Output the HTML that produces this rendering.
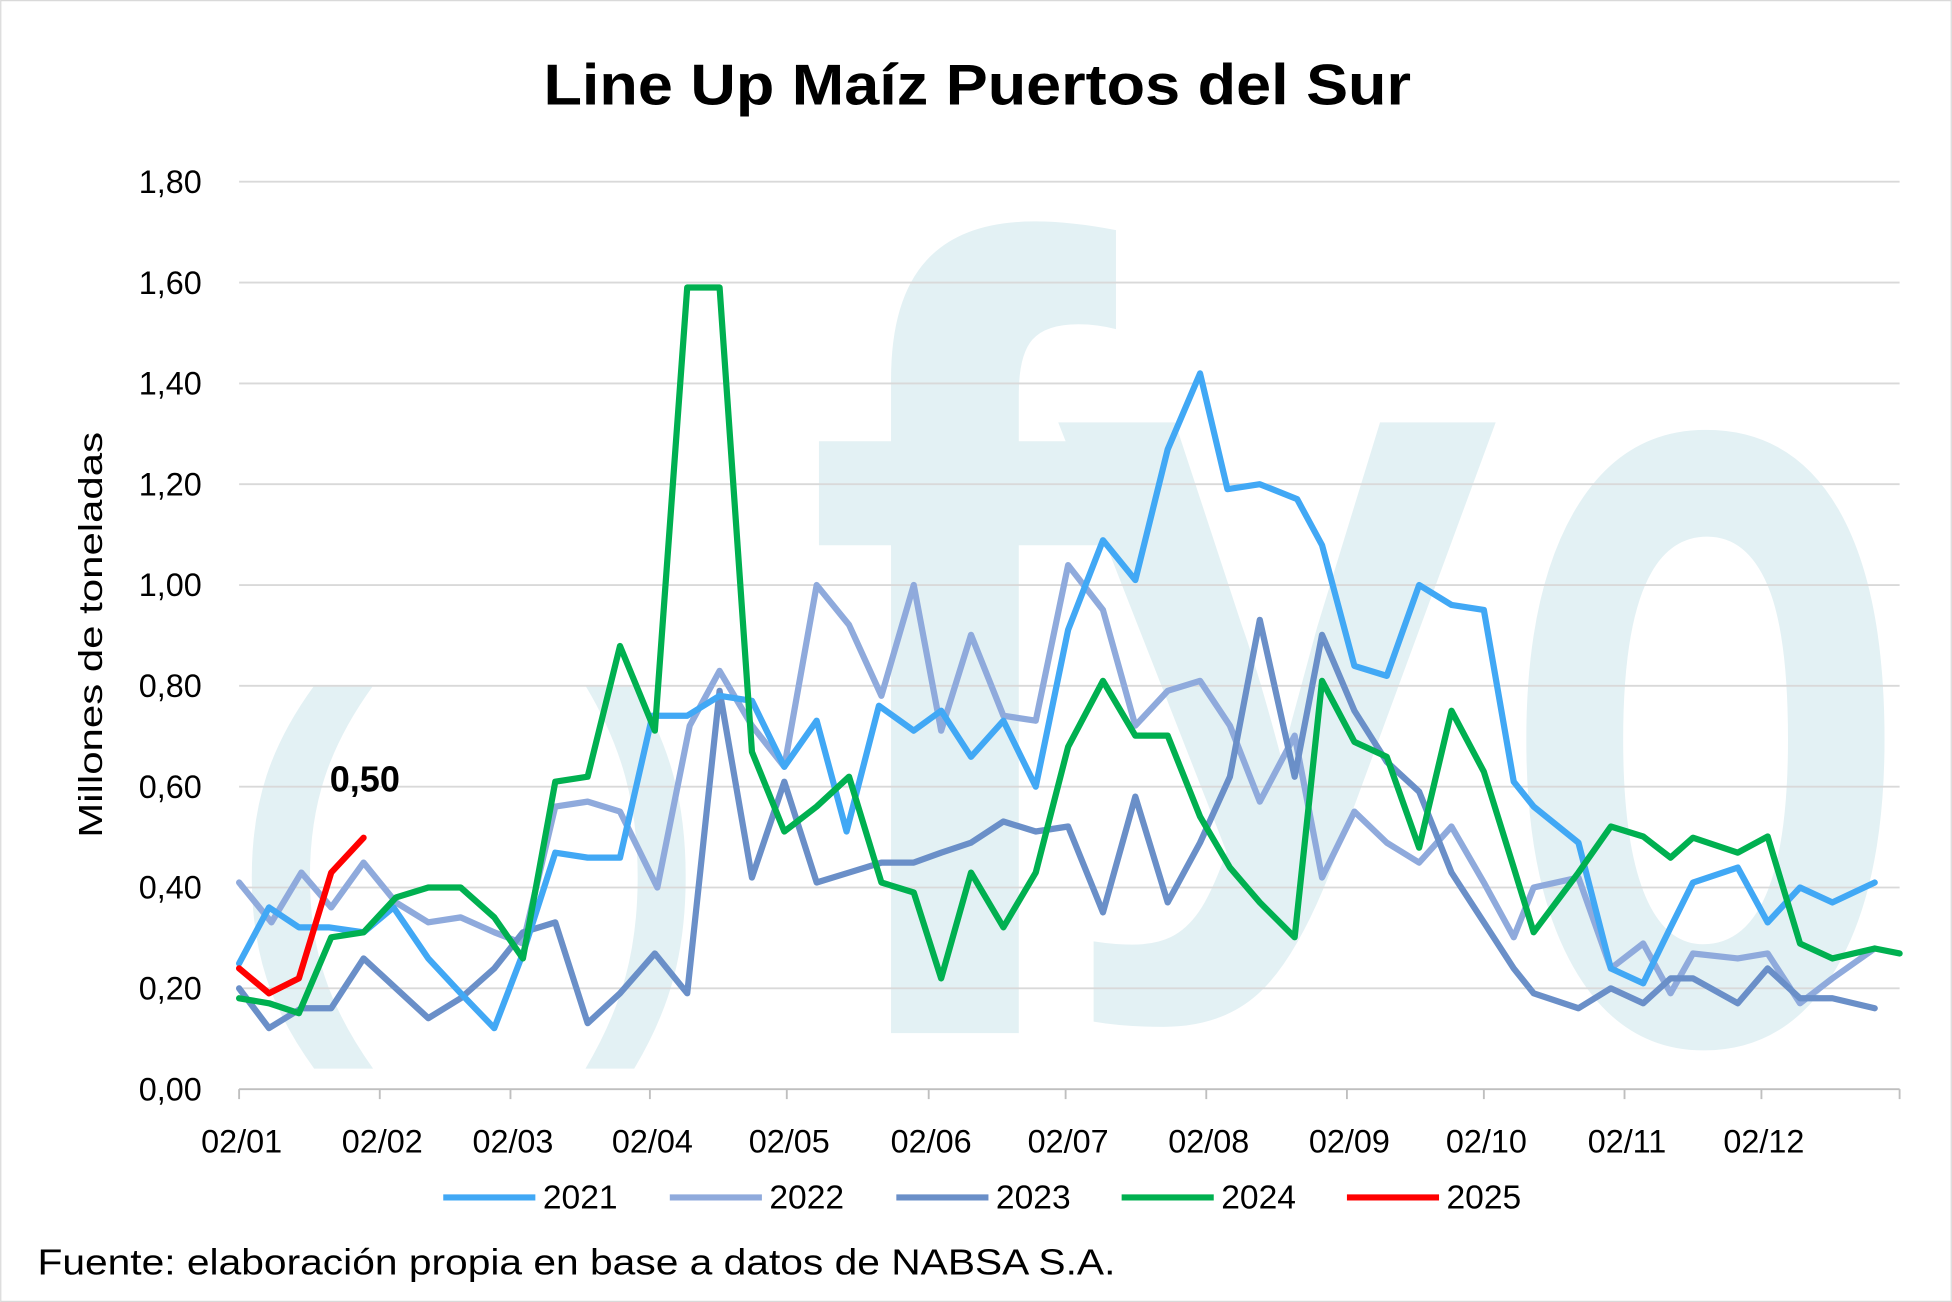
<!DOCTYPE html>
<html><head><meta charset="utf-8"><style>
html,body{margin:0;padding:0;background:#fff;}
svg{display:block;font-family:"Liberation Sans",sans-serif;}
</style></head><body>
<svg width="1952" height="1302" viewBox="0 0 1568 1046" xmlns="http://www.w3.org/2000/svg">
<rect x="0.5" y="0.5" width="1567" height="1045" fill="#fff" stroke="#d9d9d9"/>
<g fill="#e3f1f4" font-family="Liberation Sans,sans-serif">
<text x="645" y="830" font-size="900" font-weight="bold" textLength="250" lengthAdjust="spacingAndGlyphs">f</text>
<text x="845" y="688" font-size="660" font-weight="bold" textLength="360" lengthAdjust="spacingAndGlyphs">y</text>
<text x="1205" y="835" font-size="910" font-weight="bold" textLength="330" lengthAdjust="spacingAndGlyphs">o</text>
<text x="185" y="790" font-size="330" font-weight="bold" textLength="115" lengthAdjust="spacingAndGlyphs">(</text>
<text x="470" y="790" font-size="330" font-weight="bold" textLength="95" lengthAdjust="spacingAndGlyphs">)</text>
</g>
<text x="785" y="84" text-anchor="middle" font-size="46" font-weight="bold" fill="#000" textLength="697" lengthAdjust="spacingAndGlyphs">Line Up Maíz Puertos del Sur</text>
<g stroke="#d9d9d9" stroke-width="1.5">
<line x1="192" x2="1526" y1="146" y2="146"/><line x1="192" x2="1526" y1="227" y2="227"/><line x1="192" x2="1526" y1="308" y2="308"/><line x1="192" x2="1526" y1="389" y2="389"/><line x1="192" x2="1526" y1="470" y2="470"/><line x1="192" x2="1526" y1="551" y2="551"/><line x1="192" x2="1526" y1="632" y2="632"/><line x1="192" x2="1526" y1="713" y2="713"/><line x1="192" x2="1526" y1="794" y2="794"/>
</g>
<line x1="192" x2="1526" y1="875" y2="875" stroke="#bfbfbf" stroke-width="1.5"/>
<g stroke="#bfbfbf" stroke-width="1.5">
<line x1="192" x2="192" y1="875" y2="883"/><line x1="305" x2="305" y1="875" y2="883"/><line x1="410" x2="410" y1="875" y2="883"/><line x1="522" x2="522" y1="875" y2="883"/><line x1="632" x2="632" y1="875" y2="883"/><line x1="746" x2="746" y1="875" y2="883"/><line x1="856" x2="856" y1="875" y2="883"/><line x1="969" x2="969" y1="875" y2="883"/><line x1="1082" x2="1082" y1="875" y2="883"/><line x1="1192" x2="1192" y1="875" y2="883"/><line x1="1305" x2="1305" y1="875" y2="883"/><line x1="1415" x2="1415" y1="875" y2="883"/><line x1="1526" x2="1526" y1="875" y2="883"/>
</g>
<g font-size="26" fill="#000" text-anchor="end">
<text x="162" y="155">1,80</text><text x="162" y="236">1,60</text><text x="162" y="317">1,40</text><text x="162" y="398">1,20</text><text x="162" y="479">1,00</text><text x="162" y="560">0,80</text><text x="162" y="641">0,60</text><text x="162" y="722">0,40</text><text x="162" y="803">0,20</text><text x="162" y="884">0,00</text>
</g>
<g font-size="26" fill="#000" text-anchor="middle">
<text x="194" y="926">02/01</text><text x="307" y="926">02/02</text><text x="412" y="926">02/03</text><text x="524" y="926">02/04</text><text x="634" y="926">02/05</text><text x="748" y="926">02/06</text><text x="858" y="926">02/07</text><text x="971" y="926">02/08</text><text x="1084" y="926">02/09</text><text x="1194" y="926">02/10</text><text x="1307" y="926">02/11</text><text x="1417" y="926">02/12</text>
</g>
<text transform="translate(82,510) rotate(-90)" text-anchor="middle" font-size="27" fill="#000" textLength="326" lengthAdjust="spacingAndGlyphs">Millones de toneladas</text>
<g fill="none" stroke-width="5" stroke-linejoin="round" stroke-linecap="round">
<polyline stroke="#8faadc" points="192,709 218,741 242,701 266,729 292,693 318,725 344,741 370,737 397,749 420,758 446,648 472,644 498,652 528,713 554,583 578,539 604,583 630,616 656,470 682,502 708,559 734,470 756,587 780,510 806,575 832,579 858,454 886,490 912,583 938,555 964,547 988,583 1012,644 1040,591 1062,705 1088,652 1114,677 1140,693 1166,664 1192,709 1216,753 1232,713 1268,705 1294,778 1320,758 1342,798 1360,766 1396,770 1420,766 1446,806 1472,786 1506,762"/>
<polyline stroke="#6a8fc8" points="192,794 216,826 242,810 266,810 292,770 318,794 344,818 370,802 397,778 420,749 446,741 472,822 498,798 526,766 552,798 578,555 604,705 630,628 656,709 682,701 708,693 734,693 756,685 780,677 806,660 832,668 858,664 886,733 912,640 938,725 964,677 988,624 1012,498 1040,624 1062,510 1088,571 1114,612 1140,636 1166,701 1192,741 1216,778 1232,798 1268,810 1294,794 1320,806 1342,786 1360,786 1396,806 1420,778 1446,802 1472,802 1506,810"/>
<polyline stroke="#41a8f5" points="192,774 216,729 240,745 264,745 292,749 316,729 344,770 370,798 397,826 420,766 446,685 472,689 498,689 524,575 552,575 578,559 604,563 630,616 656,579 680,668 706,567 734,587 756,571 780,608 806,579 832,632 858,506 886,434 912,466 938,361 964,300 986,393 1012,389 1042,401 1062,438 1088,535 1114,543 1140,470 1166,486 1192,490 1216,628 1232,648 1268,677 1294,778 1320,790 1342,745 1360,709 1396,697 1420,741 1446,713 1472,725 1506,709"/>
<polyline stroke="#00b050" points="192,802 216,806 240,814 266,753 292,749 318,721 344,713 370,713 397,737 420,770 446,628 472,624 498,519 526,587 552,231 578,231 604,604 630,668 656,648 682,624 708,709 734,717 756,786 780,701 806,745 832,701 858,600 886,547 912,591 938,591 964,656 988,697 1012,725 1040,753 1062,547 1088,596 1114,608 1140,681 1166,571 1192,620 1216,697 1232,749 1268,701 1294,664 1320,672 1342,689 1360,673 1396,685 1420,672 1446,758 1472,770 1506,762 1526,766"/>
<polyline stroke="#ff0000" points="192,778 216,798 240,786 266,701 292,673"/>
</g>
<text x="293" y="636" text-anchor="middle" font-size="29" font-weight="bold" fill="#000">0,50</text>
<g stroke-width="5">
<line x1="356" x2="430" y1="962" y2="962" stroke="#41a8f5"/>
<line x1="538" x2="612" y1="962" y2="962" stroke="#8faadc"/>
<line x1="720" x2="794" y1="962" y2="962" stroke="#6a8fc8"/>
<line x1="901" x2="975" y1="962" y2="962" stroke="#00b050"/>
<line x1="1082" x2="1156" y1="962" y2="962" stroke="#ff0000"/>
</g>
<g font-size="27" fill="#000">
<text x="436" y="971">2021</text><text x="618" y="971">2022</text><text x="800" y="971">2023</text><text x="981" y="971">2024</text><text x="1162" y="971">2025</text>
</g>
<text x="30" y="1024" font-size="29" fill="#000" textLength="866" lengthAdjust="spacingAndGlyphs">Fuente: elaboración propia en base a datos de NABSA S.A.</text>
</svg>
</body></html>
